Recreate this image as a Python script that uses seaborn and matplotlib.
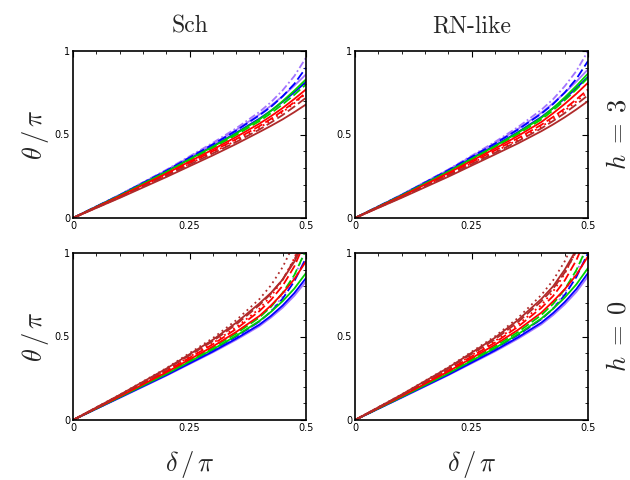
import matplotlib
matplotlib.use("Agg")
import matplotlib.pyplot as plt
import seaborn as sns
from matplotlib.ticker import MultipleLocator

sns.set_theme(style="white")
plt.rcParams["font.family"] = ["DejaVu Sans"]
plt.rcParams["mathtext.fontset"] = "cm"

# deflection angle grid (units of pi)
DELTA = [0, 0.1, 0.2, 0.3, 0.35, 0.4, 0.425, 0.45, 0.475, 0.5]

# ---- Sch, h = 3 ----
SCH_H3_BROWN = [0, 0.120, 0.245, 0.375, 0.443, 0.515, 0.552, 0.591, 0.634, 0.680]
SCH_H3_BROWN_D = [0, 0.123, 0.252, 0.387, 0.455, 0.530, 0.572, 0.617, 0.667, 0.720]
SCH_H3_RED_DOT = [0, 0.125, 0.256, 0.393, 0.463, 0.540, 0.585, 0.634, 0.688, 0.745]
SCH_H3_RED_D = [0, 0.127, 0.260, 0.400, 0.472, 0.550, 0.594, 0.642, 0.694, 0.750]
SCH_H3_RED = [0, 0.130, 0.266, 0.410, 0.485, 0.565, 0.610, 0.659, 0.713, 0.770]
SCH_H3_GREEN_D = [0, 0.132, 0.272, 0.420, 0.497, 0.580, 0.628, 0.681, 0.738, 0.800]
SCH_H3_GREEN = [0, 0.134, 0.276, 0.427, 0.506, 0.590, 0.642, 0.700, 0.763, 0.830]
SCH_H3_BLUE = [0, 0.135, 0.278, 0.430, 0.510, 0.595, 0.643, 0.696, 0.753, 0.815]
SCH_H3_BLUE_D = [0, 0.137, 0.283, 0.440, 0.523, 0.615, 0.666, 0.729, 0.803, 0.900]
SCH_H3_VIOLET = [0, 0.138, 0.285, 0.443, 0.527, 0.620, 0.673, 0.730, 0.793, 0.860]
SCH_H3_VIOLET_DOT = [0, 0.139, 0.288, 0.450, 0.537, 0.635, 0.694, 0.765, 0.850, 0.960]

# ---- RN-like, h = 3 ----
RN_H3_BROWN = [0, 0.121, 0.247, 0.380, 0.447, 0.520, 0.560, 0.603, 0.650, 0.700]
RN_H3_BROWN_D = [0, 0.124, 0.254, 0.390, 0.460, 0.537, 0.581, 0.628, 0.680, 0.735]
RN_H3_RED_DOT = [0, 0.126, 0.258, 0.397, 0.468, 0.547, 0.593, 0.643, 0.697, 0.755]
RN_H3_RED_D = [0, 0.128, 0.262, 0.404, 0.478, 0.558, 0.605, 0.655, 0.710, 0.770]
RN_H3_RED = [0, 0.131, 0.269, 0.415, 0.492, 0.575, 0.627, 0.683, 0.744, 0.810]
RN_H3_GREEN_D = [0, 0.133, 0.274, 0.424, 0.503, 0.590, 0.645, 0.705, 0.770, 0.840]
RN_H3_GREEN = [0, 0.135, 0.278, 0.430, 0.511, 0.600, 0.658, 0.722, 0.791, 0.865]
RN_H3_BLUE = [0, 0.136, 0.280, 0.434, 0.515, 0.605, 0.658, 0.715, 0.778, 0.845]
RN_H3_BLUE_D = [0, 0.138, 0.286, 0.445, 0.530, 0.625, 0.682, 0.751, 0.833, 0.940]
RN_H3_VIOLET = [0, 0.139, 0.288, 0.448, 0.534, 0.630, 0.687, 0.750, 0.817, 0.890]
RN_H3_VIOLET_DOT = [0, 0.140, 0.290, 0.455, 0.545, 0.648, 0.711, 0.789, 0.880, 1.000]

# ---- Sch, h = 0 ----
SCH_H0_VIOLET = [0, 0.132, 0.265, 0.405, 0.480, 0.562, 0.614, 0.673, 0.744, 0.830]
SCH_H0_BLUE = [0, 0.134, 0.268, 0.410, 0.487, 0.571, 0.624, 0.686, 0.760, 0.850]
SCH_H0_BLUE_D = [0, 0.136, 0.273, 0.420, 0.499, 0.590, 0.649, 0.727, 0.831, 0.970]
SCH_H0_VIOLET_DOT = [0, 0.135, 0.272, 0.418, 0.497, 0.589, 0.652, 0.740, 0.858, 1.020]
SCH_H0_GREEN = [0, 0.137, 0.275, 0.423, 0.504, 0.593, 0.648, 0.712, 0.787, 0.880]
SCH_H0_GREEN_D = [0, 0.139, 0.280, 0.433, 0.517, 0.614, 0.678, 0.762, 0.868, 1.020]
SCH_H0_RED = [0, 0.141, 0.285, 0.440, 0.527, 0.623, 0.686, 0.759, 0.844, 0.950]
SCH_H0_RED_D = [0, 0.144, 0.292, 0.453, 0.545, 0.652, 0.720, 0.804, 0.920, 1.080]
SCH_H0_RED_DOT = [0, 0.146, 0.296, 0.460, 0.555, 0.666, 0.742, 0.838, 0.969, 1.150]
SCH_H0_BROWN_D = [0, 0.148, 0.302, 0.472, 0.572, 0.688, 0.757, 0.842, 0.959, 1.120]
SCH_H0_BROWN = [0, 0.150, 0.307, 0.480, 0.582, 0.698, 0.762, 0.841, 0.948, 1.090]
SCH_H0_BROWN_DOT = [0, 0.151, 0.310, 0.490, 0.597, 0.724, 0.807, 0.916, 1.059, 1.250]

# ---- RN-like, h = 0 ----
RN_H0_VIOLET = [0, 0.133, 0.268, 0.410, 0.487, 0.573, 0.628, 0.692, 0.767, 0.860]
RN_H0_BLUE = [0, 0.135, 0.271, 0.416, 0.495, 0.583, 0.640, 0.706, 0.784, 0.880]
RN_H0_BLUE_D = [0, 0.137, 0.277, 0.427, 0.509, 0.604, 0.666, 0.748, 0.856, 1.000]
RN_H0_VIOLET_DOT = [0, 0.136, 0.275, 0.425, 0.507, 0.602, 0.669, 0.761, 0.883, 1.050]
RN_H0_GREEN = [0, 0.138, 0.279, 0.430, 0.514, 0.608, 0.666, 0.733, 0.812, 0.910]
RN_H0_GREEN_D = [0, 0.140, 0.284, 0.440, 0.527, 0.629, 0.695, 0.782, 0.897, 1.050]
RN_H0_RED = [0, 0.143, 0.290, 0.450, 0.540, 0.643, 0.710, 0.783, 0.869, 0.980]
RN_H0_RED_D = [0, 0.146, 0.297, 0.463, 0.559, 0.672, 0.742, 0.835, 0.957, 1.120]
RN_H0_RED_DOT = [0, 0.148, 0.302, 0.472, 0.572, 0.689, 0.769, 0.876, 1.015, 1.200]
RN_H0_BROWN_D = [0, 0.150, 0.307, 0.482, 0.587, 0.711, 0.786, 0.883, 1.010, 1.180]
RN_H0_BROWN = [0, 0.152, 0.313, 0.492, 0.599, 0.725, 0.800, 0.900, 1.020, 1.150]
RN_H0_BROWN_DOT = [0, 0.153, 0.316, 0.500, 0.612, 0.749, 0.836, 0.950, 1.100, 1.300]

VIOLET = "#a374ff"
BLUE = "#0000ff"
GREEN = "#00d000"
RED = "#ff0000"
BROWN = "#b02a2a"

DASH = (0, (5, 2))
DOT = (0, (1, 2))
DASHDOT = (0, (4, 1.5, 1, 1.5))

PANELS = {
    (0, 0): [
        (SCH_H3_VIOLET_DOT, VIOLET, DASHDOT), (SCH_H3_VIOLET, VIOLET, "-"),
        (SCH_H3_BLUE_D, BLUE, DASH), (SCH_H3_BLUE, BLUE, "-"),
        (SCH_H3_GREEN_D, GREEN, DASH), (SCH_H3_GREEN, GREEN, "-"),
        (SCH_H3_RED_DOT, RED, DOT), (SCH_H3_RED_D, RED, DASH), (SCH_H3_RED, RED, "-"),
        (SCH_H3_BROWN_D, BROWN, DASH), (SCH_H3_BROWN, BROWN, "-"),
    ],
    (0, 1): [
        (RN_H3_VIOLET_DOT, VIOLET, DASHDOT), (RN_H3_VIOLET, VIOLET, "-"),
        (RN_H3_BLUE_D, BLUE, DASH), (RN_H3_BLUE, BLUE, "-"),
        (RN_H3_GREEN_D, GREEN, DASH), (RN_H3_GREEN, GREEN, "-"),
        (RN_H3_RED_DOT, RED, DOT), (RN_H3_RED_D, RED, DASH), (RN_H3_RED, RED, "-"),
        (RN_H3_BROWN_D, BROWN, DASH), (RN_H3_BROWN, BROWN, "-"),
    ],
    (1, 0): [
        (SCH_H0_VIOLET_DOT, VIOLET, DOT), (SCH_H0_VIOLET, VIOLET, "-"),
        (SCH_H0_BLUE_D, BLUE, DASH), (SCH_H0_BLUE, BLUE, "-"),
        (SCH_H0_GREEN_D, GREEN, DASH), (SCH_H0_GREEN, GREEN, "-"),
        (SCH_H0_RED_DOT, RED, DOT), (SCH_H0_RED_D, RED, DASH), (SCH_H0_RED, RED, "-"),
        (SCH_H0_BROWN_DOT, BROWN, DOT), (SCH_H0_BROWN_D, BROWN, DASH), (SCH_H0_BROWN, BROWN, "-"),
    ],
    (1, 1): [
        (RN_H0_VIOLET_DOT, VIOLET, DOT), (RN_H0_VIOLET, VIOLET, "-"),
        (RN_H0_BLUE_D, BLUE, DASH), (RN_H0_BLUE, BLUE, "-"),
        (RN_H0_GREEN_D, GREEN, DASH), (RN_H0_GREEN, GREEN, "-"),
        (RN_H0_RED_DOT, RED, DOT), (RN_H0_RED_D, RED, DASH), (RN_H0_RED, RED, "-"),
        (RN_H0_BROWN_DOT, BROWN, DOT), (RN_H0_BROWN_D, BROWN, DASH), (RN_H0_BROWN, BROWN, "-"),
    ],
}

COL_TITLES = ["Sch", "RN-like"]
ROW_LABELS = [r"$h\;=\;3$", r"$h\;=\;0$"]
X_TICKS = [0, 0.25, 0.5]
X_TICKLABELS = ["0", "0.25", "0.5"]
Y_TICKS = [0, 0.5, 1]
Y_TICKLABELS = ["0", "0.5", "1"]

fig = plt.figure(figsize=(6.3, 4.8), dpi=100)
W, H = 630, 480
lefts = [73, 355]
tops = [51, 253]
aw, ah = 233, 167

for (r, c), curves in PANELS.items():
    ax = fig.add_axes([lefts[c] / W, 1 - (tops[r] + ah) / H, aw / W, ah / H])
    for vals, color, ls in curves:
        sns.lineplot(x=DELTA, y=vals, ax=ax, color=color, linestyle=ls,
                     linewidth=1.3, estimator=None, sort=False)
    ax.set_xlim(0, 0.5)
    ax.set_ylim(0, 1)
    ax.set_xticks(X_TICKS)
    ax.set_xticklabels(X_TICKLABELS)
    ax.set_yticks(Y_TICKS)
    ax.set_yticklabels(Y_TICKLABELS)
    ax.xaxis.set_minor_locator(MultipleLocator(0.05))
    ax.yaxis.set_minor_locator(MultipleLocator(0.1))
    ax.tick_params(which="both", direction="in", top=True, right=True,
                   colors="black", labelsize=7, pad=2)
    ax.tick_params(which="major", length=4, width=0.8)
    ax.tick_params(which="minor", length=2, width=0.6)
    for s in ax.spines.values():
        s.set_color("black")
        s.set_linewidth(1.2)
    ax.set_facecolor("white")
    ax.set_xlabel("")
    ax.set_ylabel("")
    if r == 0:
        ax.set_title(COL_TITLES[c], fontfamily="cmr10", fontsize=17, pad=13)
    if c == 0:
        ax.set_ylabel(r"$\theta\,/\,\pi$", fontsize=19, labelpad=3)
    if r == 1:
        ax.set_xlabel(r"$\delta\,/\,\pi$", fontsize=19, labelpad=12)
    if c == 1:
        ax.text(1.13, 0.5, ROW_LABELS[r], transform=ax.transAxes, rotation=90,
                ha="center", va="center", fontsize=19)

fig.savefig("out.png", dpi=100, facecolor="white")
